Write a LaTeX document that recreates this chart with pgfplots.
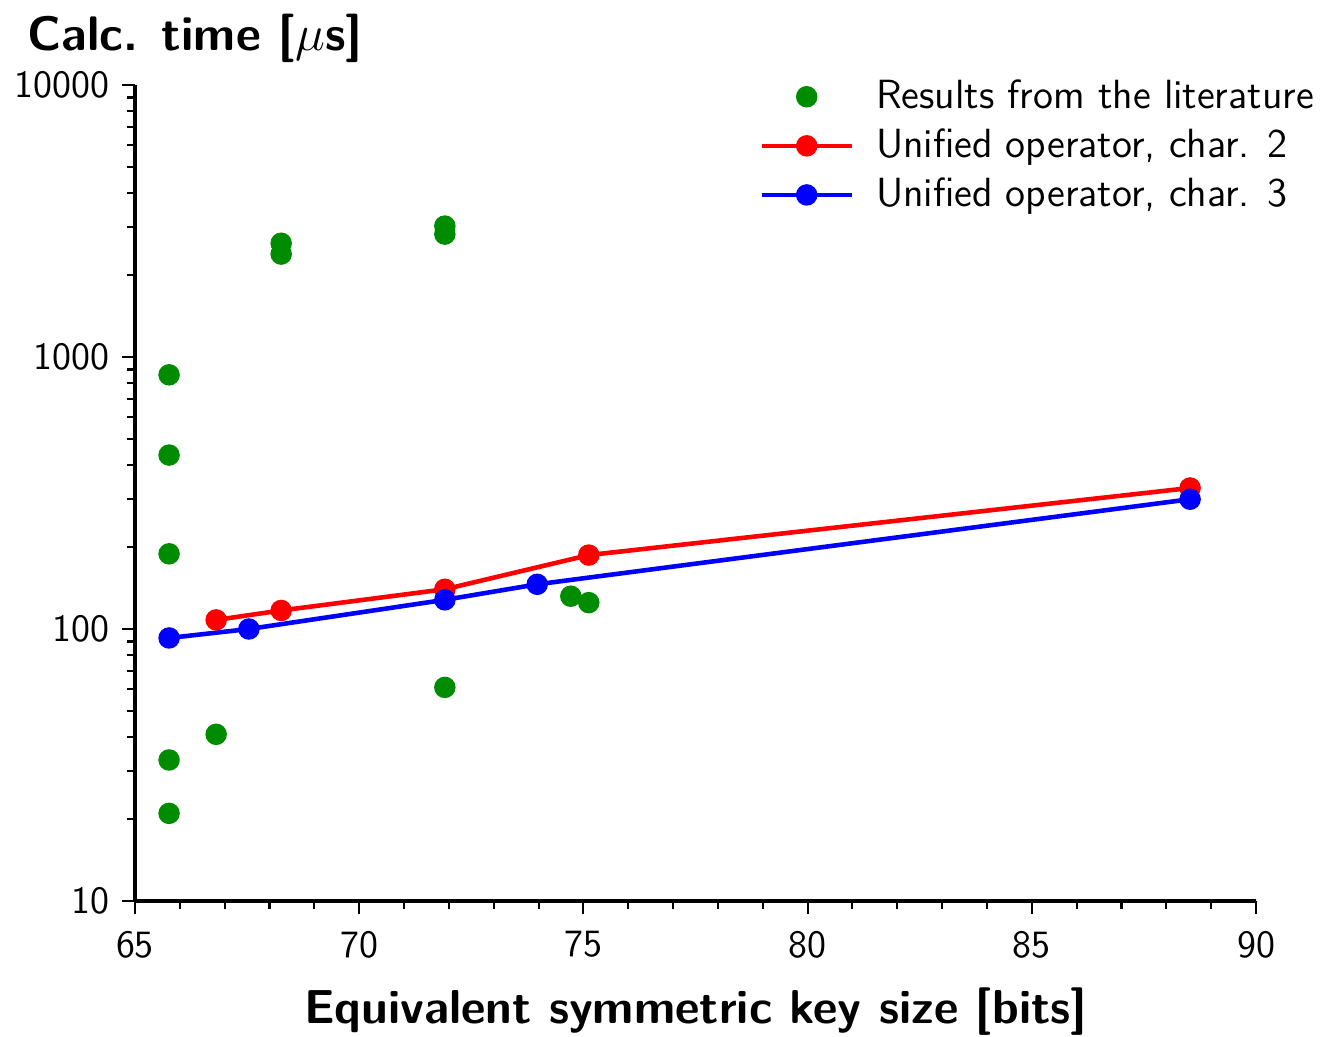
\documentclass[border=0pt]{standalone}
\usepackage{pgfplots}
\pgfplotsset{compat=1.18}
\renewcommand{\familydefault}{\sfdefault}

\definecolor{litgreen}{RGB}{0,140,0}

\begin{document}
\begin{tikzpicture}[font=\fontsize{11}{13.6}\selectfont]
\begin{axis}[
	scale only axis,
	width=11.21cm, height=8.16cm,
	xmin=65, xmax=90,
	ymin=10, ymax=10000,
	ymode=log,
	axis lines*=left,
	axis line style={line width=1.3pt},
	tick style={line width=0.6pt, black},
	tick align=outside,
	major tick length=0.13cm,
	minor tick length=0.08cm,
	xtick={65,70,75,80,85,90},
	minor x tick num=4,
	log ticks with fixed point,
	/pgf/number format/1000 sep={},
	/pgf/number format/assume math mode=true,
	xticklabel style={yshift=-0.05cm},
	xlabel={\fontsize{13.55}{16.5}\selectfont\bfseries Equivalent symmetric key size [bits]},
	xlabel style={yshift=-0.05cm},
	clip=false,
	legend style={at={(rel axis cs:0.547,1.0245)}, anchor=north west,
		draw=none, fill=none, row sep=0.3pt,
		font=\fontsize{11.6}{14}\selectfont,
		/tikz/every odd column/.append style={column sep=0.15cm}},
	legend cell align=left,
	legend image code/.code={\draw[mark repeat=2,mark phase=2,#1] plot coordinates {(0cm,0cm)(0.45cm,0cm)(0.9cm,0cm)};},
	every axis plot/.append style={line width=1.3pt},
	]

	% literature results
	\addplot[only marks, mark=*, color=litgreen, mark size=2.4pt] coordinates {
		(65.76,860) (65.76,436) (65.76,189) (65.76,33) (65.76,21)
		(66.81,41)
		(68.26,2620) (68.26,2390)
		(71.91,3030) (71.91,2830) (71.91,61)
		(74.72,132) (75.12,125)
	};
	\addlegendentry{Results from the literature}

	\addplot[mark=*, color=red, mark size=2.4pt] coordinates {
		(66.81,108) (68.26,117) (71.91,140) (75.12,187) (88.53,330)
	};
	\addlegendentry{Unified operator, char. 2}

	\addplot[mark=*, color=blue, mark size=2.4pt] coordinates {
		(65.76,92.7) (67.54,100) (71.91,128) (73.97,146) (88.53,300)
	};
	\addlegendentry{Unified operator, char. 3}

	\node[anchor=base west, inner sep=0pt, font=\fontsize{13.8}{16.5}\selectfont\bfseries]
		at ([xshift=-1.08cm, yshift=0.35cm]rel axis cs:0,1) {Calc. time [$\mu$s]};
	\coordinate (O) at (rel axis cs:0,0);
\end{axis}
\pgfresetboundingbox
\useasboundingbox (O) ++(-1.35cm,9.01cm) rectangle ++(13.22cm,-10.36cm);
\end{tikzpicture}
\end{document}
